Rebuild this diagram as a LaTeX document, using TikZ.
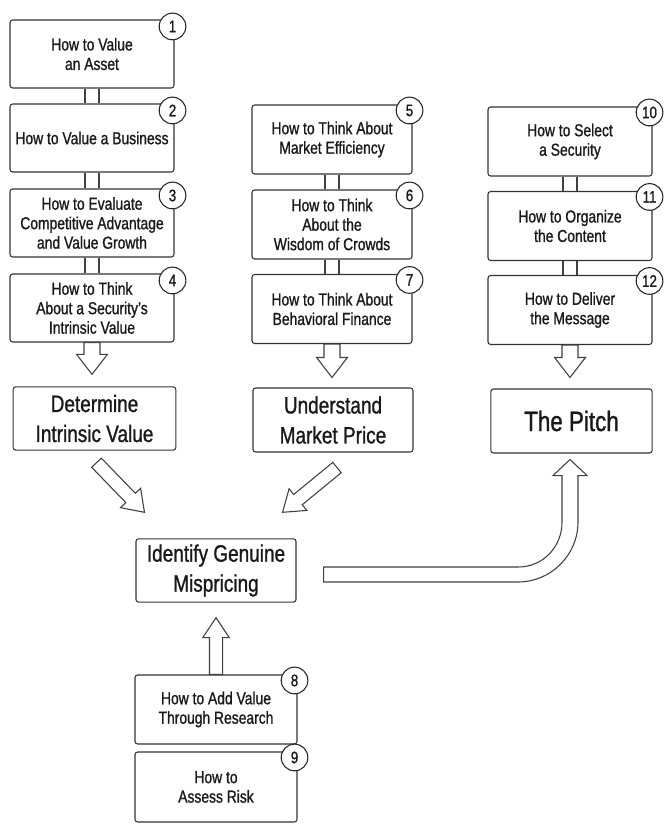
\documentclass[tikz,border=0pt]{standalone}
\usepackage{fontspec}
\setmainfont{Liberation Sans}[FakeStretch=0.8, FakeBold=1]
\usetikzlibrary{calc}

\tikzset{every picture/.style={line width=0.75pt}}
\tikzset{
  howbox/.style={draw=black!80, rounded corners=2pt, line width=0.8pt, fill=white, align=center,
    minimum width=123pt, minimum height=51pt, inner sep=2pt, text=black!90,
    font=\fontsize{13}{14.6}\selectfont},
  goalbox/.style={howbox, minimum height=47.5pt, font=\fontsize{17.8}{22.5}\selectfont},
  num/.style={draw=black!85, circle, fill=white, line width=0.8pt, minimum size=20pt,
    inner sep=0pt, text=black!90, font=\fontsize{12.5}{12.5}\selectfont},
  fat/.style={draw=black!75, fill=white, line width=0.8pt, line join=miter},
  link/.style={draw=black!75, line width=0.8pt}
}

% block arrow: from #1 to #2, half shaft #3, half head #4
\newcommand{\fatarrow}[4]{%
  \draw[fat] ($(#1)!#3!90:(#2)$) -- ($(#2)!15pt!(#1)!#3!-90:(#1)$) -- ($(#2)!15pt!(#1)!#4!-90:(#1)$)
    -- (#2) -- ($(#2)!15pt!(#1)!#4!90:(#1)$) -- ($(#2)!15pt!(#1)!#3!90:(#1)$)
    -- ($(#1)!#3!-90:(#2)$) -- cycle;}

\begin{document}
\begin{tikzpicture}[x=0.75pt,y=0.75pt,yscale=-1,xscale=1]
\useasboundingbox (0,0) rectangle (665,827);

% Text Node
\node[howbox] (b1) at (92,54) {How to Value\\an Asset};
% Text Node
\node[howbox] (b2) at (92,138) {How to Value a Business};
% Text Node
\node[howbox] (b3) at (92,223) {How to Evaluate\\Competitive Advantage\\and Value Growth};
% Text Node
\node[howbox] (b4) at (92,308) {How to Think\\About a Security's\\Intrinsic Value};
% Text Node
\node[goalbox, minimum width=122pt] (det) at (94.5,418.5) {Determine\\Intrinsic Value};

% Text Node
\node[howbox, minimum width=120pt, minimum height=51.75pt] (b5) at (332,139.5) {How to Think About\\Market Efficiency};
% Text Node
\node[howbox, minimum width=120pt, minimum height=51.75pt] (b6) at (332,224.5) {How to Think\\About the\\Wisdom of Crowds};
% Text Node
\node[howbox, minimum width=120pt, minimum height=51.75pt] (b7) at (332,309) {How to Think About\\Behavioral Finance};
% Text Node
\node[goalbox, minimum width=120pt, minimum height=48pt] (und) at (333,420) {Understand\\Market Price};

% Text Node
\node[howbox, minimum height=51.75pt] (b10) at (570,141.5) {How to Select\\a Security};
% Text Node
\node[howbox, minimum height=51.75pt] (b11) at (570,226) {How to Organize\\the Content};
% Text Node
\node[howbox, minimum height=51.75pt] (b12) at (570,310) {How to Deliver\\the Message};
% Text Node
\node[goalbox, minimum width=121pt, minimum height=48pt, font=\fontsize{21}{22}\selectfont] (pitch) at (571.5,421) {The Pitch};

% Text Node
\node[goalbox, minimum width=120pt] (ident) at (216,570.5) {Identify Genuine\\Mispricing};
% Text Node
\node[howbox, minimum width=121.5pt, minimum height=51.75pt] (b8) at (216,709.5) {How to Add Value\\Through Research};
% Text Node
\node[howbox, minimum width=121.5pt, minimum height=52.5pt] (b9) at (216,787) {How to\\Assess Risk};

%Straight Lines (double links between steps)
\draw[link] ($(b1.south)+(-7,0)$) -- ($(b2.north)+(-7,0)$) ($(b1.south)+(7,0)$) -- ($(b2.north)+(7,0)$);
\draw[link] ($(b2.south)+(-7,0)$) -- ($(b3.north)+(-7,0)$) ($(b2.south)+(7,0)$) -- ($(b3.north)+(7,0)$);
\draw[link] ($(b3.south)+(-7,0)$) -- ($(b4.north)+(-7,0)$) ($(b3.south)+(7,0)$) -- ($(b4.north)+(7,0)$);
\draw[link] ($(b5.south)+(-7,0)$) -- ($(b6.north)+(-7,0)$) ($(b5.south)+(7,0)$) -- ($(b6.north)+(7,0)$);
\draw[link] ($(b6.south)+(-7,0)$) -- ($(b7.north)+(-7,0)$) ($(b6.south)+(7,0)$) -- ($(b7.north)+(7,0)$);
\draw[link] ($(b10.south)+(-7,0)$) -- ($(b11.north)+(-7,0)$) ($(b10.south)+(7,0)$) -- ($(b11.north)+(7,0)$);
\draw[link] ($(b11.south)+(-7,0)$) -- ($(b12.north)+(-7,0)$) ($(b11.south)+(7,0)$) -- ($(b12.north)+(7,0)$);

%Shape: Circle (step numbers)
\node[num] (n1) at ($(b1.north east)+(-2,7)$) {1};
\node[num] (n2) at ($(b2.north east)+(-2,7)$) {2};
\node[num] (n3) at ($(b3.north east)+(-2,7)$) {3};
\node[num] (n4) at ($(b4.north east)+(-2,7)$) {4};
\node[num] (n5) at ($(b5.north east)+(-3,6)$) {5};
\node[num] (n6) at ($(b6.north east)+(-3,6)$) {6};
\node[num] (n7) at ($(b7.north east)+(-3,6)$) {7};
\node[num] (n8) at ($(b8.north east)+(-3,6)$) {8};
\node[num] (n9) at ($(b9.north east)+(-3,6)$) {9};
\node[num] (n10) at ($(b10.north east)+(-3,6)$) {10};
\node[num] (n11) at ($(b11.north east)+(-3,6)$) {11};
\node[num] (n12) at ($(b12.north east)+(-3,6)$) {12};

% arrow ends
\coordinate (tipdet) at ($(b4.south|-det.north)+(0,-12)$);
\coordinate (tipund) at ($(b7.south|-und.north)+(0,-10)$);
\coordinate (tippitch) at ($(b12.south|-pitch.north)+(0,-11)$);
\coordinate (taildet) at ($(det.south)+(2,12)$);
\coordinate (tipleft) at ($(ident.north west)+(9,-26)$);
\coordinate (tailund) at ($(und.south)+(4,15)$);
\coordinate (tipright) at ($(ident.north east)+(-14,-26)$);
\coordinate (tipident) at ($(ident.south)+(0,15)$);
\coordinate (tailid) at ($(ident.east)+(27,4)$);
\coordinate (tipcurve) at ($(pitch.south)+(-1.5,6)$);

%Shape: Block Arrows
\fatarrow{b4.south}{tipdet}{6pt}{11.6pt}
\fatarrow{b7.south}{tipund}{6pt}{11.6pt}
\fatarrow{b12.south}{tippitch}{6pt}{11.6pt}
\fatarrow{taildet}{tipleft}{5pt}{10.5pt}
\fatarrow{tailund}{tipright}{5pt}{10.5pt}
\fatarrow{b8.north}{tipident}{4.9pt}{10pt}

%Shape: Bent Arrow
\draw[fat] ($(tailid)+(0,7.5)$) -- ($(tipcurve|-tailid)+(-52,7.5)$)
  .. controls ($(tipcurve|-tailid)+(-19,7.5)$) and ($(tipcurve|-tailid)+(8,-19.5)$) .. ($(tipcurve|-tailid)+(8,-52.5)$)
  -- ($(tipcurve)+(8,16)$) -- ($(tipcurve)+(17,16)$) -- (tipcurve) -- ($(tipcurve)+(-17,16)$) -- ($(tipcurve)+(-8,16)$)
  -- ($(tipcurve|-tailid)+(-8,-52.5)$)
  .. controls ($(tipcurve|-tailid)+(-8,-27.5)$) and ($(tipcurve|-tailid)+(-27,-7.5)$) .. ($(tipcurve|-tailid)+(-52,-7.5)$)
  -- ($(tailid)+(0,-7.5)$) -- cycle;

\end{tikzpicture}
\end{document}
